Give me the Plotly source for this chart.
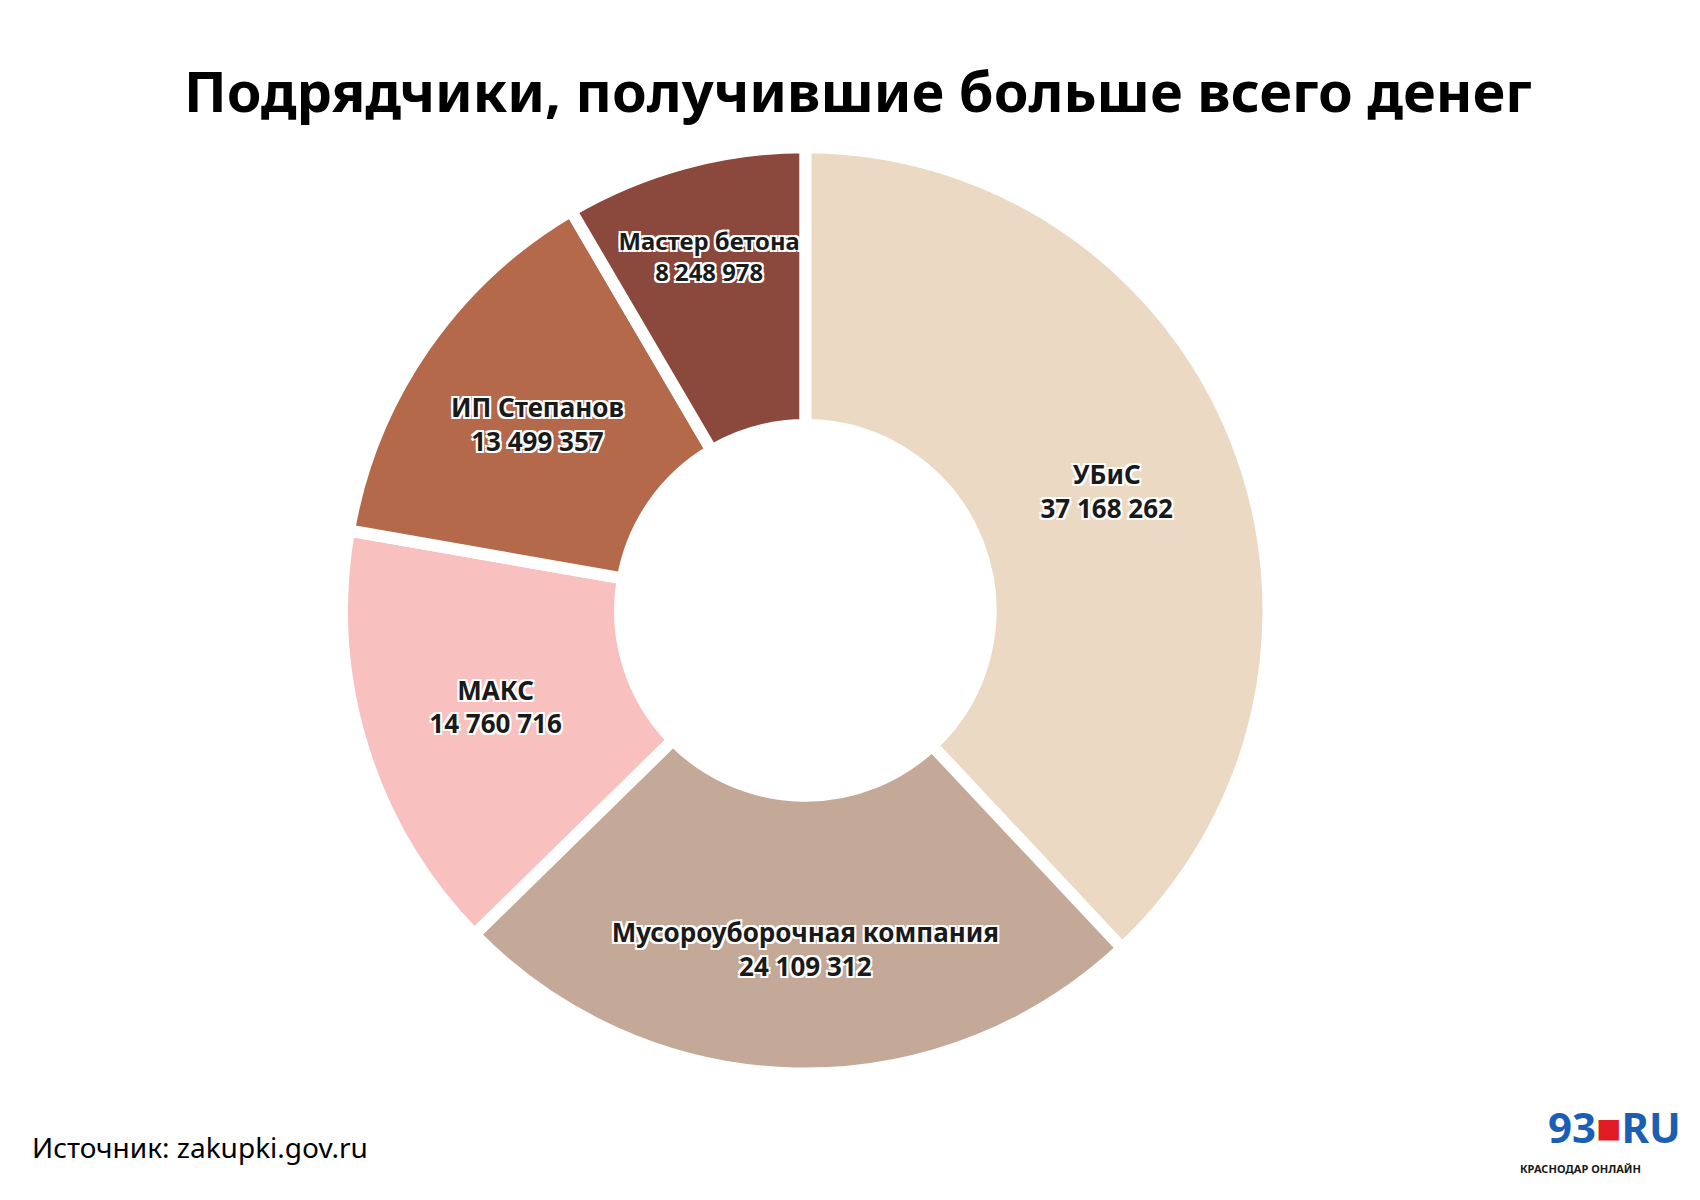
import plotly.graph_objects as go

labels = ["УБиС", "Мусороуборочная компания", "МАКС", "ИП Степанов", "Мастер бетона"]
values = [37168262, 24109312, 14760716, 13499357, 8248978]
colors = ["#ecd9c3", "#c4a898", "#f8c1c0", "#b5694b", "#8b483c"]

def fmt(v):
    return f"{v:,}".replace(",", " ")

texts = [f"{l}<br>{fmt(v)}" for l, v in zip(labels, values)]

fig = go.Figure(go.Pie(
    labels=labels, values=values, text=texts, textinfo="text",
    hoverinfo="label+value", hole=0.4, sort=False, direction="clockwise", rotation=0,
    marker=dict(colors=colors, line=dict(color="white", width=12)),
    textposition="inside", insidetextorientation="horizontal",
    textfont=dict(family="Noto Sans", size=26, color="#1a1a1a", weight="bold",
                  shadow="2px 2px 0px white, -2px -2px 0px white, 2px -2px 0px white, -2px 2px 0px white"),
    domain=dict(x=[0.196, 0.742], y=[0.112, 0.884]),
    showlegend=False,
))
fig.update_layout(
    width=1700, height=1200, margin=dict(l=0, r=0, t=0, b=0),
    paper_bgcolor="white", plot_bgcolor="white",
    annotations=[
        dict(text="<b>Подрядчики, получившие больше всего денег</b>", x=0.5, y=0.932,
             xref="paper", yref="paper", showarrow=False, xanchor="center", yanchor="middle",
             font=dict(family="Noto Sans", size=56, color="black")),
        dict(text="Источник: zakupki.gov.ru", x=0.013, y=0.051, xref="paper", yref="paper",
             showarrow=False, xanchor="left", yanchor="middle",
             font=dict(family="Noto Sans", size=28, color="black")),
        dict(text="<b><span style='color:#1a5fb4'>93</span><span style='color:#e01b24'>■</span><span style='color:#1a5fb4'>RU</span></b>",
             x=0.985, y=0.068, xref="paper", yref="paper", showarrow=False, xanchor="right", yanchor="middle",
             font=dict(family="Noto Sans", size=42)),
        dict(text="<b>КРАСНОДАР ОНЛАЙН</b>", x=0.962, y=0.033, xref="paper", yref="paper",
             showarrow=False, xanchor="right", yanchor="middle",
             font=dict(family="Noto Sans", size=11, color="#1a1a1a")),
    ],
)
fig.write_html("out.html")
